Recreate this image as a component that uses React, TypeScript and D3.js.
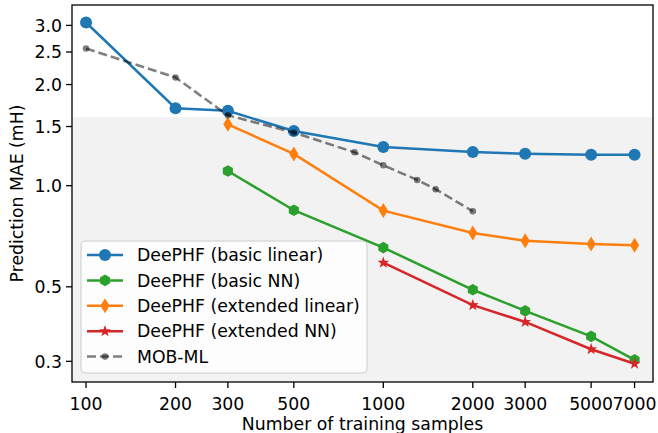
import React from 'react';
import * as d3 from 'd3';

// training set sizes
const samplesAll = [100, 200, 300, 500, 1000, 2000, 3000, 5000, 7000];
const samplesFrom300 = [300, 500, 1000, 2000, 3000, 5000, 7000];
const samplesFrom1000 = [1000, 2000, 3000, 5000, 7000];
const samplesMob = [100, 200, 300, 500, 800, 1000, 1300, 1500, 2000];

// MAE values (mH)
const basicLinear = [3.06, 1.7, 1.67, 1.455, 1.304, 1.26, 1.245, 1.237, 1.236];
const basicNN = [1.106, 0.845, 0.654, 0.49, 0.424, 0.356, 0.303];
const extendedLinear = [1.523, 1.243, 0.843, 0.723, 0.686, 0.671, 0.665];
const extendedNN = [0.59, 0.441, 0.393, 0.326, 0.295];
const mobML = [2.56, 2.1, 1.62, 1.44, 1.257, 1.15, 1.04, 0.976, 0.839];

const xTicks = [100, 200, 300, 500, 1000, 2000, 3000, 5000, 7000];
const yTicks = [0.3, 0.5, 1.0, 1.5, 2.0, 2.5, 3.0];
const chemAccuracy = 1.6;

const W = 658;
const H = 433;
const plot = { left: 72, right: 653, top: 5, bottom: 382 };
const font = 'DejaVu Sans, sans-serif';
const fs = 17.3;

function marker(kind: string, color: string) {
  if (kind === 'circle') return <circle r={6} fill={color} />;
  if (kind === 'hex') {
    const pts = d3.range(6).map((i) => {
      const a = (Math.PI / 3) * i - Math.PI / 2;
      return `${5.8 * Math.cos(a)},${5.8 * Math.sin(a)}`;
    });
    return <polygon points={pts.join(' ')} fill={color} />;
  }
  if (kind === 'diamond') return <polygon points="0,-7.5 4.6,0 0,7.5 -4.6,0" fill={color} />;
  if (kind === 'star') {
    const pts = d3.range(10).map((i) => {
      const r = i % 2 === 0 ? 6.2 : 2.5;
      const a = (Math.PI / 5) * i - Math.PI / 2;
      return `${r * Math.cos(a)},${r * Math.sin(a)}`;
    });
    return <polygon points={pts.join(' ')} fill={color} />;
  }
  return <circle r={3} fill="#000" fillOpacity={0.5} />;
}

export default function App() {
  const x = d3.scaleLog().domain([89.7, 8075]).range([plot.left, plot.right]);
  const y = d3.scaleLog().domain([0.2604, 3.45]).range([plot.bottom, plot.top]);

  const series = [
    { name: 'DeePHF (basic linear)', xs: samplesAll, ys: basicLinear, color: '#1f77b4', kind: 'circle' },
    { name: 'DeePHF (basic NN)', xs: samplesFrom300, ys: basicNN, color: '#2ca02c', kind: 'hex' },
    { name: 'DeePHF (extended linear)', xs: samplesFrom300, ys: extendedLinear, color: '#ff7f0e', kind: 'diamond' },
    { name: 'DeePHF (extended NN)', xs: samplesFrom1000, ys: extendedNN, color: '#d62728', kind: 'star' },
  ];

  const line = d3
    .line<[number, number]>()
    .x((d) => x(d[0]))
    .y((d) => y(d[1]));

  const mobPts = samplesMob.map((s, i) => [s, mobML[i]] as [number, number]);

  return (
    <div style={{ position: 'fixed', left: 0, top: 0 }}>
      <svg width={W} height={H} style={{ display: 'block', background: '#fff' }}>
        <defs>
          <clipPath id="plotclip">
            <rect x={plot.left} y={plot.top} width={plot.right - plot.left} height={plot.bottom - plot.top} />
          </clipPath>
        </defs>

        {/* shaded region below chemical accuracy */}
        <rect
          x={plot.left}
          y={y(chemAccuracy)}
          width={plot.right - plot.left}
          height={plot.bottom - y(chemAccuracy)}
          fill="#f2f2f2"
        />

        <g clipPath="url(#plotclip)">
          {series.map((s) => {
            const pts = s.xs.map((v, i) => [v, s.ys[i]] as [number, number]);
            return (
              <g key={s.name}>
                <path d={line(pts) || ''} fill="none" stroke={s.color} strokeWidth={2.5} />
                {pts.map((p, i) => (
                  <g key={i} transform={`translate(${x(p[0])},${y(p[1])})`}>
                    {marker(s.kind, s.color)}
                  </g>
                ))}
              </g>
            );
          })}
          <path d={line(mobPts) || ''} fill="none" stroke="#000" strokeOpacity={0.5} strokeWidth={2.5} strokeDasharray="9,4" />
          {mobPts.map((p, i) => (
            <circle key={i} cx={x(p[0])} cy={y(p[1])} r={3.3} fill="#000" fillOpacity={0.5} />
          ))}
        </g>

        {/* frame */}
        <rect
          x={plot.left}
          y={plot.top}
          width={plot.right - plot.left}
          height={plot.bottom - plot.top}
          fill="none"
          stroke="#000"
          strokeWidth={1.3}
        />

        {/* x ticks */}
        {xTicks.map((t) => (
          <g key={t} transform={`translate(${x(t)},${plot.bottom})`}>
            <line y2={6} stroke="#000" strokeWidth={1.3} />
            <text y={27.5} textAnchor="middle" fontFamily={font} fontSize={fs} fill="#000">
              {t}
            </text>
          </g>
        ))}

        {/* y ticks */}
        {yTicks.map((t) => (
          <g key={t} transform={`translate(${plot.left},${y(t)})`}>
            <line x2={-6} stroke="#000" strokeWidth={1.3} />
            <text x={-10} dy="0.36em" textAnchor="end" fontFamily={font} fontSize={fs} fill="#000">
              {t.toFixed(1)}
            </text>
          </g>
        ))}

        <text x={(plot.left + plot.right) / 2} y={430} textAnchor="middle" fontFamily={font} fontSize={fs} fill="#000">
          Number of training samples
        </text>
        <text
          transform={`translate(${23},${(plot.top + plot.bottom) / 2}) rotate(-90)`}
          textAnchor="middle"
          fontFamily={font}
          fontSize={fs}
          fill="#000"
        >
          Prediction MAE (mH)
        </text>

        {/* legend */}
        <g>
          <rect x={81} y={241} width={286} height={132} rx={4} fill="#fff" fillOpacity={0.8} stroke="#ccc" strokeWidth={1} />
          {series.map((s, i) => (
            <g key={s.name} transform={`translate(0,${255 + i * 25.4})`}>
              <line x1={87} x2={123} stroke={s.color} strokeWidth={2.5} />
              <g transform="translate(105,0)">{marker(s.kind, s.color)}</g>
              <text x={137} dy="0.36em" fontFamily={font} fontSize={fs} fill="#000">
                {s.name}
              </text>
            </g>
          ))}
          <g transform={`translate(0,${255 + 4 * 25.4})`}>
            <line x1={87} x2={123} stroke="#000" strokeOpacity={0.5} strokeWidth={2.5} strokeDasharray="9,4" />
            <circle cx={105} r={3.3} fill="#000" fillOpacity={0.5} />
            <text x={137} dy="0.36em" fontFamily={font} fontSize={fs} fill="#000">
              MOB-ML
            </text>
          </g>
        </g>
      </svg>
    </div>
  );
}
